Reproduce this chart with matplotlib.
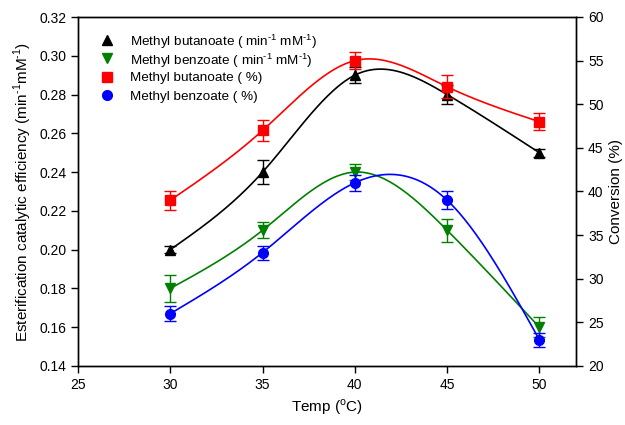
import numpy as np
import matplotlib
matplotlib.use('Agg')
import matplotlib.pyplot as plt

plt.rcParams['font.family'] = ['Liberation Sans', 'DejaVu Sans']
plt.rcParams['mathtext.fontset'] = 'custom'
plt.rcParams['mathtext.rm'] = 'Liberation Sans'

# data
temp = [30, 35, 40, 45, 50]
but_eff = [0.200, 0.240, 0.290, 0.280, 0.250]
but_eff_err = [0.002, 0.006, 0.004, 0.005, 0.002]
ben_eff = [0.180, 0.210, 0.240, 0.210, 0.160]
ben_eff_err = [0.007, 0.004, 0.004, 0.006, 0.005]
but_conv = [39, 47, 55, 52, 48]
but_conv_err = [1.1, 1.2, 1.0, 1.3, 1.0]
ben_conv = [26, 33, 41, 39, 23]
ben_conv_err = [0.9, 0.8, 0.9, 1.0, 0.8]


def spline(x, y, n=200):
    # natural cubic spline for the smooth connecting line
    x = np.asarray(x, float)
    y = np.asarray(y, float)
    k = len(x)
    h = np.diff(x)
    A = np.zeros((k, k))
    b = np.zeros(k)
    A[0, 0] = A[-1, -1] = 1
    for i in range(1, k - 1):
        A[i, i - 1] = h[i - 1]
        A[i, i] = 2 * (h[i - 1] + h[i])
        A[i, i + 1] = h[i]
        b[i] = 3 * ((y[i + 1] - y[i]) / h[i] - (y[i] - y[i - 1]) / h[i - 1])
    c = np.linalg.solve(A, b)
    xs = np.linspace(x[0], x[-1], n)
    ys = np.empty_like(xs)
    for j, xv in enumerate(xs):
        i = min(np.searchsorted(x, xv, side='right') - 1, k - 2)
        dx = xv - x[i]
        bi = (y[i + 1] - y[i]) / h[i] - h[i] * (2 * c[i] + c[i + 1]) / 3
        di = (c[i + 1] - c[i]) / (3 * h[i])
        ys[j] = y[i] + bi * dx + c[i] * dx ** 2 + di * dx ** 3
    return xs, ys


fig = plt.figure(figsize=(6.25, 4.25), dpi=100)
ax = fig.add_axes([0.125, 0.139, 0.797, 0.821])
ax2 = ax.twinx()

sup = '$^{\\text{-1}}$'
ms = 7
series = [
    (ax, but_eff, but_eff_err, 'black', '^', 'Methyl butanoate ( min' + sup + ' mM' + sup + ')'),
    (ax, ben_eff, ben_eff_err, 'green', 'v', 'Methyl benzoate ( min' + sup + ' mM' + sup + ')'),
    (ax2, but_conv, but_conv_err, 'red', 's', 'Methyl butanoate ( %)'),
    (ax2, ben_conv, ben_conv_err, 'blue', 'o', 'Methyl benzoate ( %)'),
]
for a, y, e, col, mk, lab in series:
    xs, ys = spline(temp, y)
    a.plot(xs, ys, color=col, lw=1.2)
    a.errorbar(temp, y, yerr=e, fmt='none', ecolor=col, elinewidth=1, capsize=4)
    a.plot(temp, y, ls='none', marker=mk, color=col, ms=ms)

# legend drawn by hand so the rows are evenly spaced
for i, (a, y, e, col, mk, lab) in enumerate(series):
    ly = 0.935 - i * 0.053
    ax2.plot([0.058], [ly], marker=mk, color=col, ms=ms, ls='none',
             transform=ax.transAxes, clip_on=False)
    ax2.text(0.104, ly, lab, transform=ax.transAxes, fontsize=9.7,
             va='center_baseline', ha='left')

ax.set_xlim(25, 52)
ax.set_ylim(0.14, 0.32)
ax.set_yticks(np.arange(0.14, 0.321, 0.02))
ax.set_yticklabels(['%.2f' % v for v in np.arange(0.14, 0.321, 0.02)])
ax.set_xticks([25, 30, 35, 40, 45, 50])
ax2.set_ylim(20, 60)
ax2.set_yticks(range(20, 61, 5))

for a in (ax, ax2):
    a.tick_params(direction='out', length=5, width=1, labelsize=10)
    for s in a.spines.values():
        s.set_linewidth(1)

ax.set_xlabel('Temp ($^{\\mathrm{o}}$C)', fontsize=11)
ax.set_ylabel('Esterification catalytic efficiency (min' + sup + 'mM' + sup + ')', fontsize=11)
ax2.set_ylabel('Conversion (%)', fontsize=11)

fig.savefig('out.png', dpi=100)
